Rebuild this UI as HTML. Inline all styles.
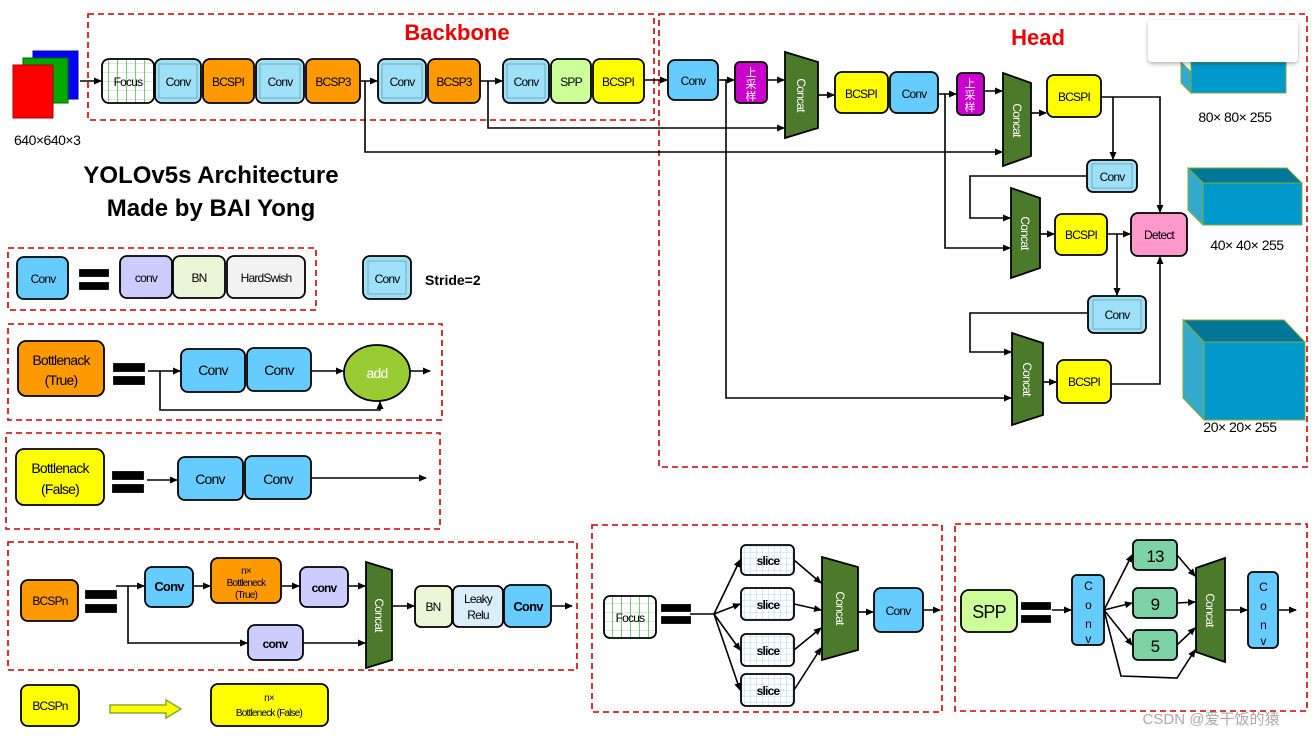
<!DOCTYPE html>
<html><head><meta charset="utf-8"><style>
body{margin:0;background:#fff}
svg{display:block}
text{font-family:"Liberation Sans","Noto Sans CJK SC",sans-serif}
</style></head><body>
<svg width="1312" height="736" viewBox="0 0 1312 736" xmlns="http://www.w3.org/2000/svg">
<defs>
<marker id="a" markerWidth="8" markerHeight="8" refX="7" refY="4" orient="auto" markerUnits="userSpaceOnUse"><path d="M0,0.5 L8,4 L0,7.5 Z" fill="#000"/></marker>
<pattern id="grid" width="6" height="6" patternUnits="userSpaceOnUse"><rect width="6" height="6" fill="#fff"/><path d="M0,0H6M0,0V6" stroke="#9cf" stroke-width="0.8"/></pattern>
<pattern id="fgrid" width="9" height="9" patternUnits="userSpaceOnUse"><rect width="9" height="9" fill="#fff"/><path d="M0,0H9" stroke="#9c9" stroke-width="0.8"/><path d="M0,0V9" stroke="#2a2" stroke-width="1.2"/></pattern>
<filter id="sh" x="-10%" y="-20%" width="120%" height="150%"><feDropShadow dx="0" dy="2" stdDeviation="2" flood-color="#000" flood-opacity="0.3"/></filter>
</defs>
<g fill="none" stroke="#c00" stroke-width="1.6" stroke-dasharray="6,4">
<rect x="88" y="14" width="566" height="106"/>
<rect x="659" y="14" width="648" height="453"/>
<rect x="8" y="248" width="308" height="62"/>
<rect x="8" y="324" width="434" height="96"/>
<rect x="6" y="433" width="434" height="96"/>
<rect x="8" y="542" width="569" height="128"/>
<rect x="592" y="525" width="350" height="187"/>
<rect x="955" y="524" width="352" height="187"/>
</g>
<text x="457" y="40" font-size="22" font-weight="bold" fill="#e00" text-anchor="middle">Backbone</text>
<text x="1038" y="45" font-size="22" font-weight="bold" fill="#e00" text-anchor="middle">Head</text>
<rect x="33" y="51" width="45" height="48" fill="#00f" stroke="#00a"/>
<rect x="23" y="58" width="45" height="45" fill="#0a0" stroke="#060"/>
<rect x="13" y="65" width="40" height="53" fill="#f00" stroke="#a00"/>
<text x="14" y="145" font-size="14" letter-spacing="-0.5">640×640×3</text>
<g stroke="#000" stroke-width="1.6" fill="none" marker-end="url(#a)">
<line x1="80" y1="81" x2="101" y2="81"/>
<line x1="360" y1="81" x2="377" y2="81"/>
<line x1="480" y1="81" x2="502" y2="81"/>
<line x1="644" y1="80" x2="667" y2="80"/>
<line x1="718" y1="80" x2="734" y2="80"/>
<line x1="767" y1="80" x2="784" y2="80"/>
<line x1="818" y1="95" x2="834" y2="95"/>
<line x1="938" y1="94" x2="956" y2="94"/>
<line x1="984" y1="91" x2="1002" y2="91"/>
<line x1="1031" y1="113" x2="1046" y2="113"/>
<polyline points="365,81 365,152 1002,152"/>
<polyline points="488,81 488,128 784,128"/>
<polyline points="1101,97 1160,97 1160,212"/>
<polyline points="1113,97 1113,159"/>
<polyline points="1087,176 970,176 970,218 1010,218"/>
<polyline points="945,94 945,248 1010,248"/>
<line x1="1040" y1="234" x2="1054" y2="234"/>
<line x1="1107" y1="234" x2="1130" y2="234"/>
<polyline points="1117,234 1117,295"/>
<polyline points="1088,313 970,313 970,352 1011,352"/>
<polyline points="726,80 726,398 1011,398"/>
<line x1="1043" y1="382" x2="1056" y2="382"/>
<polyline points="1111,384 1160,384 1160,257"/>
<line x1="148" y1="371" x2="180" y2="371"/>
<line x1="311" y1="371" x2="343" y2="371"/>
<line x1="410" y1="371" x2="430" y2="371"/>
<polyline points="160,371 160,410 380,410 380,402"/>
<line x1="147" y1="480" x2="177" y2="480"/>
<line x1="311" y1="478" x2="426" y2="478"/>
<line x1="116" y1="586" x2="144" y2="586"/>
<line x1="193" y1="586" x2="210" y2="586"/>
<line x1="281" y1="586" x2="299" y2="586"/>
<line x1="348" y1="586" x2="365" y2="586"/>
<polyline points="128,586 128,643 247,643"/>
<line x1="303" y1="643" x2="365" y2="643"/>
<line x1="392" y1="606" x2="414" y2="606"/>
<line x1="551" y1="606" x2="572" y2="606"/>
<line x1="858" y1="612" x2="873" y2="612"/>
<line x1="923" y1="610" x2="940" y2="610"/>
<line x1="714" y1="614" x2="740" y2="560"/>
<line x1="714" y1="614" x2="740" y2="604"/>
<line x1="714" y1="614" x2="740" y2="650"/>
<line x1="714" y1="614" x2="740" y2="690"/>
<line x1="794" y1="560" x2="821" y2="583"/>
<line x1="794" y1="604" x2="821" y2="610"/>
<line x1="794" y1="650" x2="821" y2="628"/>
<line x1="794" y1="690" x2="821" y2="648"/>
<line x1="1052" y1="610" x2="1071" y2="610"/>
<line x1="1104" y1="610" x2="1132" y2="555"/>
<line x1="1104" y1="610" x2="1132" y2="603"/>
<line x1="1104" y1="610" x2="1132" y2="645"/>
<polyline points="1104,610 1121,676 1177,678 1195,650"/>
<line x1="1177" y1="555" x2="1195" y2="576"/>
<line x1="1177" y1="603" x2="1195" y2="602"/>
<line x1="1177" y1="645" x2="1195" y2="628"/>
<line x1="1225" y1="610" x2="1247" y2="610"/>
<line x1="1278" y1="610" x2="1296" y2="610"/>
</g>
<line x1="690" y1="614" x2="714" y2="614" stroke="#000" stroke-width="1.6"/>
<g stroke="#000" stroke-width="1.8" font-size="12" letter-spacing="-0.8" text-anchor="middle">
<rect x="102" y="59" width="52" height="44" rx="7" fill="url(#fgrid)"/>
<rect x="155" y="59" width="46" height="44" rx="7" fill="#9de0f8"/>
<rect x="203" y="59" width="51" height="44" rx="7" fill="#f90"/>
<rect x="256" y="59" width="48" height="44" rx="7" fill="#9de0f8"/>
<rect x="306" y="59" width="54" height="44" rx="7" fill="#f90"/>
<rect x="378" y="59" width="48" height="44" rx="7" fill="#9de0f8"/>
<rect x="428" y="59" width="52" height="44" rx="7" fill="#f90"/>
<rect x="503" y="59" width="46" height="44" rx="7" fill="#9de0f8"/>
<rect x="551" y="59" width="40" height="44" rx="7" fill="#cf9"/>
<rect x="593" y="59" width="51" height="44" rx="7" fill="#ff0"/>
<rect x="668" y="60" width="50" height="40" rx="7" fill="#6cf"/>
<rect x="735" y="62" width="32" height="41" rx="5" fill="#c0c"/>
<path d="M785,52 L818,62 L818,128 L785,138 Z" fill="#4a7a2a"/>
<rect x="835" y="72" width="53" height="41" rx="7" fill="#ff0"/>
<rect x="890" y="72" width="48" height="41" rx="7" fill="#6cf"/>
<rect x="957" y="73" width="27" height="42" rx="5" fill="#c0c"/>
<path d="M1003,73 L1031,83 L1031,156 L1003,166 Z" fill="#4a7a2a"/>
<rect x="1047" y="75" width="54" height="42" rx="7" fill="#ff0"/>
<rect x="1087" y="160" width="50" height="32" rx="6" fill="#9de0f8"/>
<path d="M1011,188 L1040,198 L1040,268 L1011,278 Z" fill="#4a7a2a"/>
<rect x="1055" y="214" width="52" height="41" rx="7" fill="#ff0"/>
<rect x="1131" y="213" width="56" height="43" rx="7" fill="#f9c"/>
<rect x="1088" y="296" width="58" height="37" rx="6" fill="#9de0f8"/>
<path d="M1012,333 L1043,343 L1043,415 L1012,425 Z" fill="#4a7a2a"/>
<rect x="1057" y="360" width="54" height="43" rx="7" fill="#ff0"/>
<rect x="17" y="257" width="51" height="42" rx="7" fill="#6cf"/>
<rect x="120" y="256" width="52" height="42" rx="7" fill="#ccf"/>
<rect x="173" y="256" width="52" height="42" rx="7" fill="#ebf5d8"/>
<rect x="227" y="256" width="78" height="42" rx="7" fill="#f2f2f2"/>
<rect x="363" y="256" width="48" height="43" rx="7" fill="#9de0f8"/>
<rect x="18" y="341" width="86" height="55" rx="8" fill="#f90"/>
<rect x="181" y="349" width="64" height="43" rx="7" fill="#6cf"/>
<rect x="247" y="348" width="64" height="43" rx="7" fill="#6cf"/>
<ellipse cx="377" cy="373" rx="33" ry="28" fill="#9c3"/>
<rect x="16" y="449" width="88" height="56" rx="8" fill="#ff0"/>
<rect x="178" y="457" width="65" height="43" rx="7" fill="#6cf"/>
<rect x="245" y="456" width="66" height="43" rx="7" fill="#6cf"/>
<rect x="21" y="580" width="57" height="41" rx="7" fill="#f90"/>
<rect x="145" y="567" width="48" height="40" rx="7" fill="#6cf"/>
<rect x="211" y="558" width="70" height="45" rx="7" fill="#f90"/>
<rect x="300" y="567" width="48" height="40" rx="7" fill="#ccf"/>
<rect x="248" y="625" width="55" height="35" rx="7" fill="#ccf"/>
<path d="M366,562 L392,570 L392,660 L366,668 Z" fill="#4a7a2a"/>
<rect x="415" y="586" width="37" height="41" rx="6" fill="#ebf5d8"/>
<rect x="453" y="586" width="50" height="41" rx="6" fill="#daeefa"/>
<rect x="504" y="585" width="47" height="42" rx="7" fill="#6cf"/>
<rect x="21" y="685" width="58" height="41" rx="7" fill="#ff0"/>
<rect x="211" y="684" width="117" height="42" rx="7" fill="#ff0"/>
<rect x="604" y="596" width="52" height="42" rx="6" fill="url(#fgrid)"/>
<rect x="741" y="545" width="53" height="30" rx="5" fill="url(#grid)"/>
<rect x="741" y="588" width="53" height="32" rx="5" fill="url(#grid)"/>
<rect x="741" y="634" width="53" height="32" rx="5" fill="url(#grid)"/>
<rect x="741" y="674" width="53" height="32" rx="5" fill="url(#grid)"/>
<path d="M822,557 L858,567 L858,650 L822,660 Z" fill="#4a7a2a"/>
<rect x="874" y="588" width="49" height="44" rx="7" fill="#6cf"/>
<rect x="961" y="590" width="56" height="42" rx="8" fill="#cf9"/>
<rect x="1072" y="575" width="32" height="70" rx="5" fill="#6cf"/>
<rect x="1133" y="540" width="44" height="30" rx="5" fill="#7dd3a5"/>
<rect x="1133" y="588" width="44" height="30" rx="5" fill="#7dd3a5"/>
<rect x="1133" y="630" width="44" height="30" rx="5" fill="#7dd3a5"/>
<path d="M1196,568 L1225,558 L1225,662 L1196,652 Z" fill="#4a7a2a"/>
<rect x="1248" y="572" width="30" height="76" rx="5" fill="#6cf"/>
</g>
<g fill="none" stroke="#7ab" stroke-width="1">
<rect x="159" y="64" width="38" height="34"/><rect x="260" y="64" width="40" height="34"/>
<rect x="382" y="64" width="40" height="34"/><rect x="507" y="64" width="38" height="34"/>
<rect x="1092" y="164" width="40" height="24"/><rect x="1093" y="300" width="48" height="29"/>
<rect x="368" y="261" width="38" height="33"/>
</g>
<g stroke="#000" stroke-width="1.8">
<rect x="80" y="270" width="28" height="6"/><rect x="80" y="283" width="28" height="6"/>
<rect x="114" y="364" width="30" height="7"/><rect x="114" y="377" width="30" height="7"/>
<rect x="113" y="472" width="30" height="7"/><rect x="113" y="485" width="30" height="7"/>
<rect x="86" y="591" width="30" height="7"/><rect x="86" y="605" width="30" height="7"/>
<rect x="662" y="605" width="28" height="6"/><rect x="662" y="617" width="28" height="6"/>
<rect x="1022" y="603" width="28" height="6"/><rect x="1022" y="616" width="28" height="6"/>
</g>
<path d="M110,705 H166 V700 L181,709 L166,718 V713 H110 Z" fill="#ff0" stroke="#8a3" stroke-width="1.5"/>
<g font-size="12" letter-spacing="-0.8" text-anchor="middle" fill="#000">
<text x="128" y="86">Focus</text><text x="178" y="86">Conv</text><text x="228" y="86">BCSPI</text>
<text x="280" y="86">Conv</text><text x="333" y="86">BCSP3</text><text x="402" y="86">Conv</text>
<text x="454" y="86">BCSP3</text><text x="526" y="86">Conv</text><text x="571" y="86">SPP</text>
<text x="618" y="86">BCSPI</text>
<text x="693" y="85">Conv</text><text x="861" y="98">BCSPI</text><text x="914" y="98">Conv</text>
<text x="1074" y="101">BCSPI</text><text x="1112" y="181">Conv</text><text x="1081" y="239">BCSPI</text>
<text x="1159" y="239">Detect</text><text x="1117" y="319">Conv</text><text x="1084" y="386">BCSPI</text>
<text x="43" y="283">Conv</text><text x="146" y="282">conv</text><text x="199" y="282">BN</text>
<text x="266" y="282">HardSwish</text><text x="387" y="283">Conv</text>
<text x="61" y="365" font-size="14">Bottlenack</text><text x="61" y="385" font-size="14">(True)</text>
<text x="213" y="375" font-size="14">Conv</text><text x="279" y="375" font-size="14">Conv</text>
<text x="377" y="378" font-size="14" fill="#fff">add</text>
<text x="60" y="473" font-size="14">Bottlenack</text><text x="60" y="494" font-size="14">(False)</text>
<text x="210" y="484" font-size="14">Conv</text><text x="278" y="484" font-size="14">Conv</text>
<text x="50" y="605">BCSPn</text>
<text x="169" y="591" font-weight="bold" font-size="13">Conv</text>
<text x="246" y="574" font-size="10">n×</text><text x="246" y="586" font-size="10">Bottleneck</text><text x="246" y="598" font-size="10">(True)</text>
<text x="324" y="592" font-weight="bold">conv</text><text x="275" y="648" font-weight="bold">conv</text>
<text x="433" y="611">BN</text><text x="478" y="603">Leaky</text><text x="478" y="619">Relu</text>
<text x="528" y="611" font-weight="bold" font-size="13">Conv</text>
<text x="50" y="710">BCSPn</text>
<text x="269" y="701" font-size="10">n×</text><text x="269" y="716" font-size="10">Bottleneck (False)</text>
<text x="630" y="622">Focus</text>
<text x="768" y="565" font-weight="bold">slice</text><text x="768" y="609" font-weight="bold">slice</text>
<text x="768" y="655" font-weight="bold">slice</text><text x="768" y="695" font-weight="bold">slice</text>
<text x="898" y="615">Conv</text>
<text x="989" y="618" font-size="18">SPP</text>
<text x="1155" y="562" font-size="17">13</text><text x="1155" y="610" font-size="17">9</text><text x="1155" y="652" font-size="17">5</text>
<text x="1088" y="590" font-size="12">C</text><text x="1088" y="609" font-size="12">o</text><text x="1088" y="628" font-size="12">n</text><text x="1088" y="643" font-size="12">v</text>
<text x="1263" y="591" font-size="12">C</text><text x="1263" y="610" font-size="12">o</text><text x="1263" y="629" font-size="12">n</text><text x="1263" y="645" font-size="12">v</text>
</g>
<g fill="#fff" font-size="11" text-anchor="middle">
<text x="751" y="76">上</text><text x="751" y="88">采</text><text x="751" y="100">样</text>
<text x="970" y="87">上</text><text x="970" y="99">采</text><text x="970" y="111">样</text>
</g>
<g fill="#fff" font-size="12" letter-spacing="-0.8" text-anchor="middle">
<text transform="translate(797,95) rotate(90)">Concat</text>
<text transform="translate(1013,120) rotate(90)">Concat</text>
<text transform="translate(1021,233) rotate(90)">Concat</text>
<text transform="translate(1023,379) rotate(90)">Concat</text>
<text transform="translate(375,615) rotate(90)">Concat</text>
<text transform="translate(836,608) rotate(90)">Concat</text>
<text transform="translate(1206,610) rotate(90)">Concat</text>
</g>
<text x="211" y="183" font-size="24" font-weight="bold" text-anchor="middle">YOLOv5s Architecture</text>
<text x="211" y="216" font-size="24" font-weight="bold" text-anchor="middle">Made by BAI Yong</text>
<text x="425" y="285" font-size="14" font-weight="bold">Stride=2</text>
<g stroke="#8a3" stroke-width="1">
<path d="M1181,62 L1191,72 L1191,93 L1181,83 Z" fill="#3ac"/>
<rect x="1191" y="62" width="95" height="31" fill="#09c"/>
<path d="M1188,168 L1287,168 L1302,183 L1203,183 Z" fill="#079"/>
<path d="M1188,168 L1203,183 L1203,225 L1188,210 Z" fill="#3ac"/>
<rect x="1203" y="183" width="99" height="42" fill="#09c"/>
<path d="M1183,320 L1284,320 L1305,342 L1204,342 Z" fill="#079"/>
<path d="M1183,320 L1204,342 L1204,420 L1183,398 Z" fill="#3ac"/>
<rect x="1204" y="342" width="101" height="78" fill="#09c"/>
</g>
<rect x="1148" y="20" width="150" height="42" rx="4" fill="#fff" filter="url(#sh)"/>
<g font-size="14" letter-spacing="-0.5" text-anchor="middle">
<text x="1235" y="122">80× 80× 255</text><text x="1247" y="250">40× 40× 255</text><text x="1240" y="432">20× 20× 255</text>
</g>
<text x="1211" y="724" font-size="15" fill="#aaa" text-anchor="middle">CSDN @爱干饭的猿</text>
</svg>
</body></html>
